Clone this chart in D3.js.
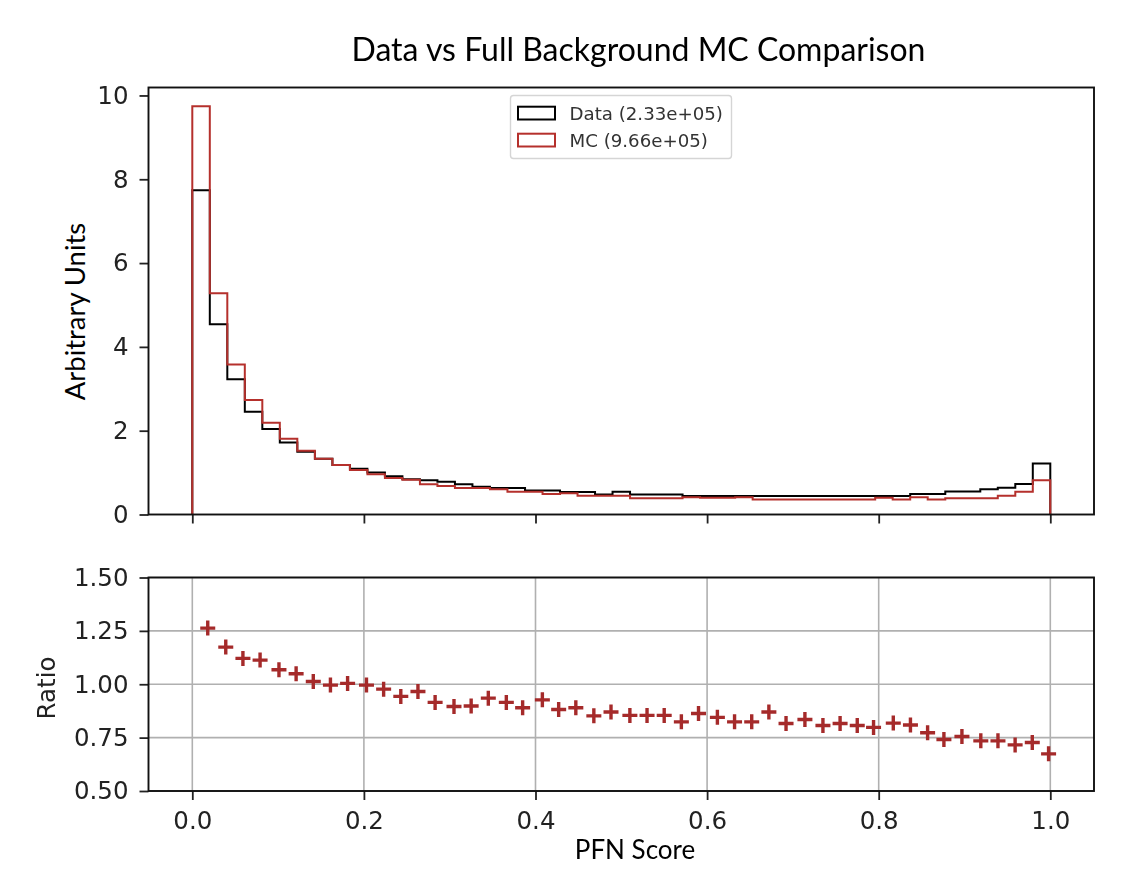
<!DOCTYPE html>
<html>
<head>
<meta charset="utf-8">
<script src="https://cdnjs.cloudflare.com/ajax/libs/d3/7.8.5/d3.min.js"></script>
<style>
    html, body { margin: 0; padding: 0; background: #fff; }
    svg { display: block; }
    .tick text { font-family: "DejaVu Sans", sans-serif; font-size: 24.5px; fill: #222; }
    .tick line { stroke: #222; stroke-width: 1.8; }
    .domain { display: none; }
    .label { font-family: Lato, "Open Sans", sans-serif; fill: #000; }
    .legend-text { font-family: "DejaVu Sans", sans-serif; font-size: 18.2px; fill: #333; }
</style>
</head>
<body>
<div id="container"></div>
<script>
// Bin edges of the histograms (49 bins)
const binEdges = [0, .0204, .0408, .0612, .0816, .102, .1224, .1429, .1633, .1837, .2041, .2245, .2449, .2653, .2857, .3061, .3265, .3469, .3673, .3878, .4082, .4286, .449, .4694, .4898, .5102, .5306, .551, .5714, .5918, .6122, .6327, .6531, .6735, .6939, .7143, .7347, .7551, .7755, .7959, .8163, .8367, .8571, .8776, .898, .9184, .9388, .9592, .9796, 1];

// Top panel, one height per bin
const dataHeights = [7.74, 4.54, 3.23, 2.45, 2.04, 1.72, 1.50, 1.33, 1.18, 1.09, 1.00, .91, .84, .82, .78, .72, .66, .63, .63, .575, .575, .535, .535, .48, .54, .48, .48, .48, .44, .44, .44, .44, .44, .44, .44, .44, .44, .44, .44, .44, .44, .49, .49, .55, .55, .60, .64, .73, 1.22];
const mcHeights = [9.74, 5.28, 3.58, 2.73, 2.19, 1.81, 1.52, 1.33, 1.18, 1.06, .96, .87, .83, .72, .68, .63, .63, .60, .545, .545, .49, .505, .45, .45, .45, .39, .39, .39, .41, .40, .40, .41, .36, .36, .36, .36, .36, .36, .36, .40, .36, .41, .36, .39, .39, .39, .45, .545, .82];

// Bottom panel
const ratioX = [.018, .039, .059, .079, .101, .121, .141, .161, .181, .203, .223, .243, .263, .283, .305, .325, .345, .366, .385, .408, .427, .447, .468, .488, .510, .530, .550, .570, .590, .612, .632, .652, .672, .692, .714, .735, .755, .775, .794, .817, .837, .857, .876, .897, .919, .939, .959, .979, .998];
const ratioY = [1.263, 1.174, 1.121, 1.113, 1.068, 1.049, 1.013, .996, 1.004, .996, .977, .943, .966, .915, .896, .898, .935, .915, .890, .927, .882, .890, .852, .870, .854, .854, .854, .824, .863, .845, .824, .824, .870, .816, .835, .807, .816, .807, .798, .818, .809, .773, .741, .755, .735, .735, .716, .727, .674];

// Ticks and text
const xTicks = [0, 0.2, 0.4, 0.6, 0.8, 1.0];
const topTicks = [0, 2, 4, 6, 8, 10];
const ratioTicks = [0.5, 0.75, 1.0, 1.25, 1.5];
const legendLabels = ["Data (2.33e+05)", "MC (9.66e+05)"];
const seriesColors = ["#000000", "#b5302c"];
const markerColor = "#a52a2a";

const width = 1148, height = 892;
const frameLeft = 148.5, frameRight = 1094;
const topBox = {top: 87.5, bottom: 514.5};
const ratioBox = {top: 577.5, bottom: 791};

const svg = d3.select("#container").append("svg")
    .attr("width", width)
    .attr("height", height);

// Slight softening, the source is an upscaled screenshot
const chart = svg.append("g").style("filter", "blur(0.6px)");

// Scales
const x = d3.scaleLinear().domain([-0.05, 1.05]).range([149.4, 1093.2]);
const yTop = d3.scaleLinear().domain([0, 10.19]).range([topBox.bottom, topBox.top]);
const yRatio = d3.scaleLinear().domain([0.5, 1.5]).range([ratioBox.bottom, ratioBox.top]);

// Grid of the ratio panel
chart.append("g").selectAll("line")
    .data(xTicks)
    .enter().append("line")
    .attr("x1", d => x(d)).attr("x2", d => x(d))
    .attr("y1", ratioBox.top).attr("y2", ratioBox.bottom)
    .attr("stroke", "#b0b0b0").attr("stroke-width", 1.6);
chart.append("g").selectAll("line")
    .data(ratioTicks)
    .enter().append("line")
    .attr("x1", frameLeft).attr("x2", frameRight)
    .attr("y1", d => yRatio(d)).attr("y2", d => yRatio(d))
    .attr("stroke", "#b0b0b0").attr("stroke-width", 1.6);

// Step histograms
const stepLine = d3.line()
    .x(d => x(d[0]))
    .y(d => yTop(d[1]))
    .curve(d3.curveStepAfter);

[dataHeights, mcHeights].forEach((heights, s) => {
    const pts = [[0, 0]];
    heights.forEach((h, i) => pts.push([binEdges[i], h]));
    pts.push([1, 0]);
    chart.append("path")
        .attr("d", stepLine(pts))
        .attr("fill", "none")
        .attr("stroke", seriesColors[s])
        .attr("stroke-width", 2);
});

// Ratio markers
chart.append("g").selectAll("path")
    .data(ratioX.map((d, i) => [d, ratioY[i]]))
    .enter().append("path")
    .attr("d", "M-7.5,0H7.5M0,-7.5V7.5")
    .attr("transform", d => `translate(${x(d[0])},${yRatio(d[1])})`)
    .attr("stroke", markerColor)
    .attr("stroke-width", 3.4)
    .attr("fill", "none");

// Axes
chart.append("g")
    .attr("transform", `translate(0,${topBox.bottom})`)
    .call(d3.axisBottom(x).tickValues(xTicks).tickSize(9).tickFormat(""));
chart.append("g")
    .attr("transform", `translate(${frameLeft},0)`)
    .call(d3.axisLeft(yTop).tickValues(topTicks).tickSize(9).tickPadding(11).tickFormat(d3.format("d")));
chart.append("g")
    .attr("transform", `translate(0,${ratioBox.bottom})`)
    .call(d3.axisBottom(x).tickValues(xTicks).tickSize(9).tickPadding(12).tickFormat(d3.format(".1f")));
chart.append("g")
    .attr("transform", `translate(${frameLeft},0)`)
    .call(d3.axisLeft(yRatio).tickValues(ratioTicks).tickSize(9).tickPadding(11).tickFormat(d3.format(".2f")));

// Panel frames
[topBox, ratioBox].forEach(b => {
    chart.append("rect")
        .attr("x", frameLeft).attr("y", b.top)
        .attr("width", frameRight - frameLeft)
        .attr("height", b.bottom - b.top)
        .attr("fill", "none")
        .attr("stroke", "#111")
        .attr("stroke-width", 1.9);
});

// Legend
const legend = chart.append("g");
legend.append("rect")
    .attr("x", 510.5).attr("y", 95.5)
    .attr("width", 221).attr("height", 63)
    .attr("rx", 3)
    .attr("fill", "#fff").attr("fill-opacity", 0.8)
    .attr("stroke", "#d5d5d5").attr("stroke-width", 1.4);
legendLabels.forEach((label, i) => {
    legend.append("rect")
        .attr("x", 518).attr("y", 106.7 + i * 27)
        .attr("width", 37).attr("height", 12.8)
        .attr("fill", "none")
        .attr("stroke", seriesColors[i]).attr("stroke-width", 2);
    legend.append("text")
        .attr("class", "legend-text")
        .attr("x", 569.5).attr("y", 119.5 + i * 27.8)
        .text(label);
});

// Ratio label sits with the plot, in the plot's font
chart.append("text")
    .attr("transform", "translate(55,688) rotate(-90)")
    .attr("text-anchor", "middle")
    .style("font-family", '"DejaVu Sans", sans-serif')
    .style("font-size", "24.5px")
    .style("fill", "#222")
    .text("Ratio");

// Title and labels
svg.append("text")
    .attr("class", "label")
    .attr("x", 638.5).attr("y", 60.5)
    .attr("text-anchor", "middle")
    .style("font-size", "32px")
    .text("Data vs Full Background MC Comparison");
svg.append("text")
    .attr("class", "label")
    .attr("x", 635).attr("y", 859)
    .attr("text-anchor", "middle")
    .style("font-size", "26px")
    .text("PFN Score");
svg.append("text")
    .attr("class", "label")
    .attr("transform", "translate(85,311.5) rotate(-90)")
    .attr("text-anchor", "middle")
    .style("font-size", "27.4px")
    .text("Arbitrary Units");
</script>
</body>
</html>
